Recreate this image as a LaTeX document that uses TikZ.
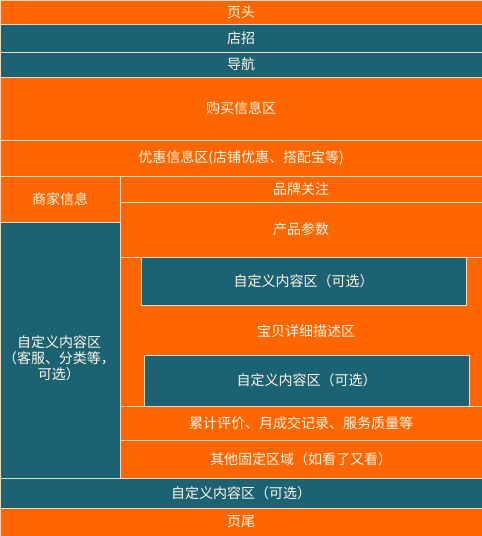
\documentclass[tikz,border=0pt]{standalone}
\usepackage{fontspec}
\newfontfamily\cjk{Noto Sans CJK SC}
\definecolor{shopOrange}{HTML}{FF6600}
\definecolor{shopTeal}{HTML}{1B6272}
\definecolor{shopLine}{HTML}{F2D9BE}
\definecolor{shopText}{HTML}{FFF6EA}
\tikzset{
  orangebox/.style={fill=shopOrange,draw=shopLine,line width=1pt},
  tealbox/.style={fill=shopTeal,draw=shopLine,line width=1pt},
  lbl/.style={text=shopText,font=\cjk\fontsize{14}{16}\selectfont,inner sep=0pt}
}
\begin{document}
\begin{tikzpicture}[x=1pt,y=-1pt]
        \useasboundingbox (0,0) rectangle (482,536);
        % top bars
        \draw[orangebox] (0,0) rectangle node[lbl] (head) {页头} (482,24);
        \draw[tealbox] (0,24) rectangle node[lbl] (sign) {店招} (482,52);
        \draw[tealbox] (0,52) rectangle node[lbl] (nav) {导航} (482,77);
        \draw[orangebox] (0,77) rectangle node[lbl] (buy) {购买信息区} (482,140);
        \draw[orangebox] (0,140) rectangle node[lbl] (promo) {优惠信息区(店铺优惠、搭配宝等)} (482,176);
        % left column
        \draw[orangebox] (0,176) rectangle node[lbl] (seller) {商家信息} (120,222);
        \draw[tealbox] (0,222) rectangle (120,478);
        \node[lbl,align=center] (side) at (59,358) {自定义内容区\\（客服、分类等，\\可选）};
        % right column
        \draw[orangebox] (120,176) rectangle node[lbl] (brand) {品牌关注} (482,202);
        \draw[orangebox] (120,202) rectangle node[lbl] (param) {产品参数} (482,257);
        \draw[orangebox] (120,257) rectangle (482,406);
        \node[lbl] (desc) at (306,331) {宝贝详细描述区};
        \draw[tealbox] (141,257) rectangle node[lbl] (custA) {自定义内容区（可选）} (466,305);
        \draw[tealbox] (144,355) rectangle node[lbl] (custB) {自定义内容区（可选）} (469,406);
        \draw[orangebox] (120,406) rectangle node[lbl] (rate) {累计评价、月成交记录、服务质量等} (482,440);
        \draw[orangebox] (120,440) rectangle node[lbl] (other) {其他固定区域（如看了又看）} (482,478);
        % bottom bars
        \draw[tealbox] (0,478) rectangle node[lbl] (custC) {自定义内容区（可选）} (482,508);
        \draw[orangebox] (0,508) rectangle node[lbl] (foot) {页尾} (482,536);
    \end{tikzpicture}
\end{document}
